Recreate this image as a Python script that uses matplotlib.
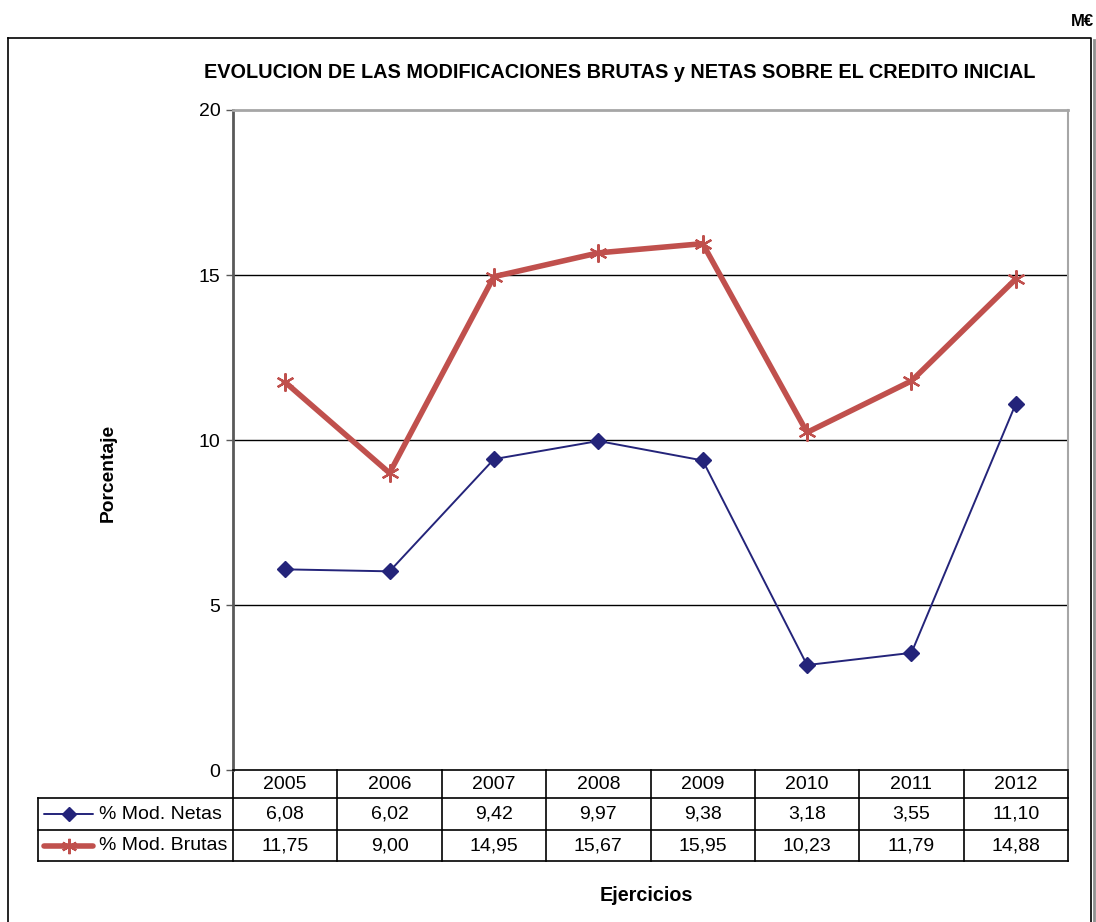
import matplotlib.pyplot as plt
import matplotlib.transforms as mtransforms
from matplotlib.lines import Line2D
import numpy as np

# Datos
ejercicios = ['2005', '2006', '2007', '2008', '2009', '2010', '2011', '2012']
mod_netas = [6.08, 6.02, 9.42, 9.97, 9.38, 3.18, 3.55, 11.10]
mod_brutas = [11.75, 9.00, 14.95, 15.67, 15.95, 10.23, 11.79, 14.88]
series_nombres = ['% Mod. Netas', '% Mod. Brutas']

plt.rcParams['font.family'] = ['Liberation Sans', 'DejaVu Sans']

W, H = 1096, 922
fig = plt.figure(figsize=(W / 100, H / 100), dpi=100)

def fx(px):
    return px / W

def fy(py):
    return 1 - py / H

# marco exterior del gráfico
fig.add_artist(Line2D([fx(8), fx(1091), fx(1091)], [fy(38), fy(38), fy(930)], color='black', lw=1.2))
fig.add_artist(Line2D([fx(8), fx(8)], [fy(38), fy(930)], color='black', lw=1.2))
fig.add_artist(Line2D([fx(1094), fx(1094)], [fy(40), fy(930)], color='#909090', lw=2.0))

fig.text(fx(1094), fy(21), 'M€', ha='right', va='center', fontsize=12, fontweight='bold')
fig.text(fx(620), fy(73), 'EVOLUCION DE LAS MODIFICACIONES BRUTAS y NETAS SOBRE EL CREDITO INICIAL',
         ha='center', va='center', fontsize=14.3, fontweight='bold')
fig.text(fx(108), fy(473), 'Porcentaje', ha='center', va='center', rotation=90,
         fontsize=13.9, fontweight='bold')
fig.text(fx(646), fy(895), 'Ejercicios', ha='center', va='center', fontsize=14.2, fontweight='bold')

# área de trazado
x0, x1, y0, y1 = 233, 1068, 110, 770
ax = fig.add_axes([fx(x0), fy(y1), fx(x1 - x0), (y1 - y0) / H])
x = np.arange(len(ejercicios))

ax.set_xlim(-0.5, len(ejercicios) - 0.5)
ax.set_ylim(0, 20)
ax.set_yticks([0, 5, 10, 15, 20])
ax.set_xticks([])
ax.tick_params(axis='y', direction='out', length=5, width=1, color='#595959',
               labelsize=14, pad=4)
for yv in [5, 10, 15]:
    ax.axhline(yv, color='black', lw=1.0, zorder=1)
ax.spines['top'].set_color('#A6A6A6')
ax.spines['top'].set_linewidth(2)
ax.spines['right'].set_color('#A6A6A6')
ax.spines['right'].set_linewidth(1.5)
ax.spines['left'].set_color('#595959')
ax.spines['left'].set_linewidth(2)
ax.spines['bottom'].set_color('black')
ax.spines['bottom'].set_linewidth(1.2)

estilos = [
    dict(color='#24247A', lw=1.4, marker='D', ms=8.5, zorder=4),
    dict(color='#C0504D', lw=4.0, marker=(6, 2, 0), ms=13, mew=1.6, zorder=3),
]
ax.plot(x, mod_netas, **estilos[0])
ax.plot(x, mod_brutas, **estilos[1])

# tabla de datos bajo el eje
trans = mtransforms.blended_transform_factory(ax.transData, ax.transAxes)
ty = lambda py: (y1 - py) / (y1 - y0)
filas = [770, 798, 830, 861]
izq = (38 - x0) / (x1 - x0)
bordes = np.arange(len(ejercicios) + 1) - 0.5

for b in bordes:
    ax.add_line(Line2D([b, b], [ty(filas[0]), ty(filas[-1])], transform=trans,
                       color='black', lw=1.2, clip_on=False))
for r in filas[1:]:
    ax.add_line(Line2D([izq, 1], [ty(r), ty(r)], transform=ax.transAxes,
                       color='black', lw=1.2, clip_on=False))
ax.add_line(Line2D([izq, izq], [ty(filas[1]), ty(filas[-1])], transform=ax.transAxes,
                   color='black', lw=1.2, clip_on=False))

for i, e in enumerate(ejercicios):
    ax.text(i, ty((filas[0] + filas[1]) / 2), e, transform=trans,
            ha='center', va='center', fontsize=14)
    for j, serie in enumerate([mod_netas, mod_brutas]):
        ax.text(i, ty((filas[j + 1] + filas[j + 2]) / 2), f'{serie[i]:.2f}'.replace('.', ','),
                transform=trans, ha='center', va='center', fontsize=14)

# claves de leyenda en la primera columna
for j, nombre in enumerate(series_nombres):
    yc = ty((filas[j + 1] + filas[j + 2]) / 2)
    xa, xb, xm = (44 - x0) / (x1 - x0), (93 - x0) / (x1 - x0), (69 - x0) / (x1 - x0)
    ax.add_line(Line2D([xa, xb], [yc, yc], transform=ax.transAxes, color=estilos[j]['color'],
                       lw=estilos[j]['lw'], clip_on=False, solid_capstyle='round'))
    ax.add_line(Line2D([xm], [yc], transform=ax.transAxes, color=estilos[j]['color'],
                       marker=estilos[j]['marker'], ms=estilos[j]['ms'] * 0.85,
                       mew=estilos[j].get('mew', 1), clip_on=False))
    ax.text((99 - x0) / (x1 - x0), yc, nombre, transform=ax.transAxes,
            ha='left', va='center', fontsize=14)

fig.savefig('out.png', dpi=100)
